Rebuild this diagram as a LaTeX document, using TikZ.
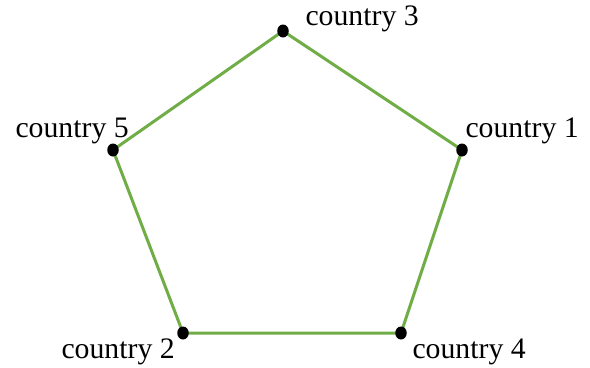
\documentclass[tikz,border=0pt]{standalone}
\usepackage{fontspec}
\setmainfont{Liberation Serif}
\usepackage{tikz}
\usetikzlibrary{shapes.geometric, positioning, backgrounds}
\usepackage{xcolor}
\definecolor{edgegreen}{HTML}{70AD47}
\tikzset{
  citydot/.style={ellipse, fill=black, draw=none, inner sep=0pt,
                  minimum width=4.6pt, minimum height=5.2pt},
  citylabel/.style={anchor=base west, inner sep=0pt, font=\fontsize{11.9}{14}\selectfont},
  border/.style={draw=edgegreen, line width=1.2pt},
}
\begin{document}
\begin{tikzpicture}[x=0.4pt, y=-0.4pt]
  \useasboundingbox (0,0) rectangle (590,367);

  % --- the five countries ---
  \node[citydot] (country3) at (283,31) {};
  \node[citydot] (country1) at (462,150) {};
  \node[citydot] (country5) at (113,150) {};
  \node[citydot] (country2) at (183,333) {};
  \node[citydot] (country4) at (401,333) {};

  % --- names ---
  \node[citylabel] (name3) at (305,25) {country 3};
  \node[citylabel] (name1) at (465,137) {country 1};
  \node[citylabel] (name5) at (15,137) {country 5};
  \node[citylabel] (name2) at (61,358) {country 2};
  \node[citylabel] (name4) at (412,358) {country 4};

  % --- borders, behind the dots ---
  \begin{scope}[on background layer]
    \draw[border] (country3.center) -- (country1.center) -- (country4.center)
                  -- (country2.center) -- (country5.center) -- (country3.center);
  \end{scope}
\end{tikzpicture}
\end{document}
